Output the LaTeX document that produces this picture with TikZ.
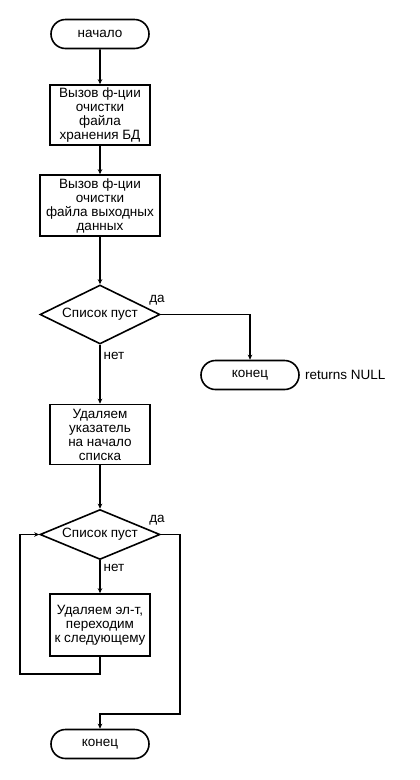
\documentclass[tikz,border=0pt]{standalone}
\usepackage{fontspec}
\setmainfont{Liberation Sans}
\usetikzlibrary{shapes.geometric,shapes.misc,arrows.meta}
\tikzset{
  blocco/.style={draw,line width=1.6pt,align=center,inner sep=1pt,minimum height=60pt},
  termine/.style={draw,line width=1.6pt,rounded rectangle,minimum width=100pt,minimum height=29pt,inner sep=1pt},
  scelta/.style={draw,line width=1.6pt,diamond,aspect=2,inner sep=0pt,minimum width=120pt,minimum height=59pt},
  freccia/.style={line width=1.6pt,-{Stealth[length=5pt,width=4.5pt]}},
  etichetta/.style={inner sep=0pt}
}
\begin{document}
\begin{tikzpicture}[x=1pt,y=-1pt,font=\fontsize{13.5}{14}\selectfont]
      \useasboundingbox (0,0) rectangle (420,780);
      %blocchi
      \node[termine] (inizio) at (100,34) {начало};
      \node[blocco,minimum width=100pt] (pulisci1) at (100,115) {Вызов ф-ции\\очистки\\файла\\хранения БД};
      \node[blocco,minimum width=120pt,minimum height=61pt] (pulisci2) at (100,205.5) {Вызов ф-ции\\очистки\\файла выходных\\данных};
      \node[scelta] (vuota1) at (100,314.5) {Список пуст};
      \node[termine] (fine1) at (250,375) {конец};
      \node[etichetta,anchor=west] (ritorno) at (305,375) {returns NULL};
      \node[blocco,minimum width=100pt] (testa) at (100,434.5) {Удаляем\\указатель\\на начало\\списка};
      \node[scelta,minimum height=40pt] (vuota2) at (100,534.5) {Список пуст};
      \node[blocco,minimum width=100pt,minimum height=62pt] (togli) at (100,625) {Удаляем эл-т,\\переходим\\к следующему};
      \node[termine] (fine2) at (100,744) {конец};
      %frecce
      \draw[freccia] (inizio) -- (pulisci1);
      \draw[freccia] (pulisci1) -- (pulisci2);
      \draw[freccia] (pulisci2) -- (vuota1);
      \draw[freccia] (vuota1.east) -| (fine1.north);
      \draw[freccia] (vuota1) -- (testa);
      \draw[freccia] (testa) -- (vuota2);
      \draw[freccia] (vuota2) -- (togli);
      %ciclo
      \coordinate (giro) at (20,674);
      \draw[freccia] (togli.south) |- (giro) |- (vuota2.west);
      \coordinate (uscita) at (180,714);
      \draw[freccia] (vuota2.east) -| (uscita) -| (fine2.north);
      %etichette
      \node[etichetta] (si1) at (157,300) {да};
      \node[etichetta] (no1) at (114,356) {нет};
      \node[etichetta] (si2) at (157,520) {да};
      \node[etichetta] (no2) at (114,568) {нет};
\end{tikzpicture}
\end{document}
